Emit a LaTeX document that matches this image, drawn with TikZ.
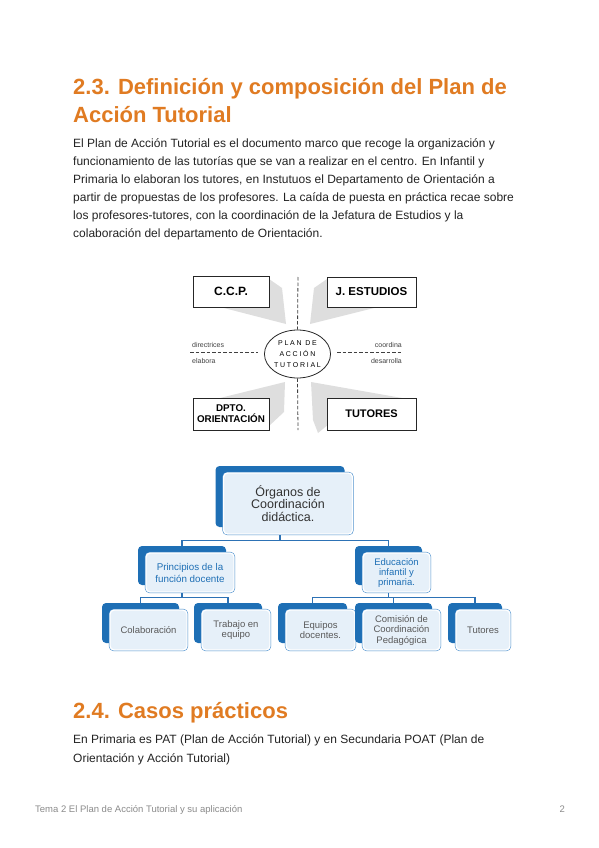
\documentclass[tikz,border=0pt]{standalone}
\usepackage{fontspec}
\setmainfont{Liberation Sans}
\usetikzlibrary{shapes.geometric,backgrounds}
\definecolor{ttl}{HTML}{E07B22}
\definecolor{bodytxt}{HTML}{222222}
\definecolor{shadowblue}{HTML}{1E6FB5}
\definecolor{frontfill}{HTML}{E6F0F9}
\definecolor{edgeblue}{HTML}{3A84C8}
\definecolor{linkblue}{HTML}{2D72B5}
\definecolor{wedgegray}{HTML}{DEDEDE}
\definecolor{footgray}{HTML}{8A8A8A}
\newcommand\orgbox[7]{%
  \node[shadowbox,minimum width=#4pt,minimum height=#5pt] (#1s) at (#2-8,#3-7) {};
  \node[frontbox,minimum width=#4pt,minimum height=#5pt,#6] (#1) at (#2,#3) {#7};
}
\begin{document}
\begin{tikzpicture}[x=1pt,y=-1pt,
  titletext/.style={anchor=base west,inner sep=0,text=ttl,font=\fontsize{22}{27}\selectfont\bfseries},
  bodyline/.style={anchor=base west,inner sep=0,text=bodytxt,font=\fontsize{12}{18}\selectfont},
  dbox/.style={rectangle,draw=black!85,line width=0.8pt,fill=white,align=center,inner sep=0},
  wedge/.style={fill=wedgegray,draw=none},
  dashline/.style={draw=black!75,line width=0.8pt,dash pattern=on 3.5pt off 2pt},
  tinylabel/.style={inner sep=0,font=\fontsize{7}{8}\selectfont,text=black!75},
  shadowbox/.style={rectangle,rounded corners=4pt,fill=shadowblue,inner sep=0},
  frontbox/.style={rectangle,rounded corners=4pt,fill=frontfill,draw=white,line width=1.4pt,
     preaction={draw=edgeblue,line width=2.4pt},inner sep=0,align=center},
  link/.style={draw=linkblue,line width=1.1pt},
  lvlthree/.style={font=\fontsize{9.5}{10.5}\selectfont,text=black!65}
]
\useasboundingbox (0,0) rectangle (599,848);

% ---------- heading and paragraph ----------
\node[titletext] (t1) at (73,95) {2.3. Definición y composición del Plan de};
\node[titletext] (t2) at (73,122) {Acción Tutorial};
\node[bodyline] (p1) at (73,147) {El Plan de Acción Tutorial es el documento marco que recoge la organización y};
\node[bodyline] (p2) at (73,165) {funcionamiento de las tutorías que se van a realizar en el centro. En Infantil y};
\node[bodyline] (p3) at (73,183) {Primaria lo elaboran los tutores, en Instutuos el Departamento de Orientación a};
\node[bodyline] (p4) at (73,201) {partir de propuestas de los profesores. La caída de puesta en práctica recae sobre};
\node[bodyline] (p5) at (73,219) {los profesores-tutores, con la coordinación de la Jefatura de Estudios y la};
\node[bodyline] (p6) at (73,237) {colaboración del departamento de Orientación.};

% ---------- upper diagram ----------
\fill[wedge] (269,279) -- (282,288) -- (286,324) -- (220,307) -- (250,295) -- cycle;
\fill[wedge] (327,279) -- (314,288) -- (310,324) -- (378,307) -- (350,295) -- cycle;
\fill[wedge] (220,398) -- (285,382) -- (284,412) -- (269,426) -- (250,410) -- cycle;
\fill[wedge] (402,398) -- (311,382) -- (313,420) -- (318,433) -- (340,415) -- cycle;

\node[dbox,minimum width=76pt,minimum height=31pt,font=\fontsize{12}{12}\selectfont\bfseries] (ccp) at (231,291.5) {C.C.P.};
\node[dbox,minimum width=89pt,minimum height=30pt,font=\fontsize{11.5}{12}\selectfont\bfseries] (je) at (371.5,292) {J. ESTUDIOS};
\node[dbox,minimum width=76pt,minimum height=32pt,font=\fontsize{9.8}{11}\selectfont\bfseries] (dpto) at (231,414) {DPTO.\\ORIENTACIÓN};
\node[dbox,minimum width=89pt,minimum height=32pt,font=\fontsize{11}{12}\selectfont\bfseries] (tut) at (371.5,414) {TUTORES};

\node[ellipse,draw=black!85,line width=0.8pt,fill=white,minimum width=65pt,minimum height=48pt,inner sep=0,align=center,
      font=\fontsize{7}{11}\selectfont\addfontfeature{LetterSpace=25}] (pat) at (297.5,354) {PLAN DE\\ACCIÓN\\TUTORIAL};

\coordinate (vtop) at (298,277);
\coordinate (vbot) at (298,430);
\coordinate (hl1) at (190,352);
\coordinate (hl2) at (258,352);
\coordinate (hr1) at (337,352);
\coordinate (hr2) at (402,352);
\draw[dashline] (vtop) -- (pat.north);
\draw[dashline] (pat.south) -- (vbot);
\draw[dashline] (hl1) -- (hl2);
\draw[dashline] (hr1) -- (hr2);

\node[tinylabel,anchor=base west] (lab1) at (192,347) {directrices};
\node[tinylabel,anchor=base west] (lab2) at (192,363) {elabora};
\node[tinylabel,anchor=base east] (lab3) at (402,347) {coordina};
\node[tinylabel,anchor=base east] (lab4) at (402,363) {desarrolla};

% ---------- org chart ----------
\orgbox{top}{288}{503.5}{129}{61}{font=\fontsize{12.5}{12.5}\selectfont,text=black!80}{Órganos de\\Coordinación\\didáctica.}
\orgbox{pri}{190}{572.5}{88}{39}{font=\fontsize{9.8}{12}\selectfont,text=shadowblue}{Principios de la\\función docente}
\orgbox{edu}{396.5}{572.5}{67}{39}{font=\fontsize{9.5}{10}\selectfont,text=shadowblue}{Educación\\infantil y\\primaria.}
\orgbox{col}{148.5}{630}{77}{40}{lvlthree}{Colaboración}
\orgbox{tra}{236}{630}{68}{40}{lvlthree}{Trabajo en\\equipo}
\orgbox{equ}{320.5}{630}{69}{40}{lvlthree}{Equipos\\docentes.}
\orgbox{com}{401.5}{630}{77}{40}{lvlthree}{Comisión de\\Coordinación\\Pedagógica}
\orgbox{tuo}{483}{630}{54}{40}{lvlthree}{Tutores}

\begin{pgfonlayer}{background}
\draw[link] (tops.south) -- ++(0,13) -| (pris.north);
\draw[link] (tops.south) -- ++(0,13) -| (edus.north);
\draw[link] (pris.south) -- ++(0,12) -| (cols.north);
\draw[link] (pris.south) -- ++(0,12) -| (tras.north);
\draw[link] (edus.south) -- ++(0,12) -| (equs.north);
\draw[link] (edus.south) -- ++(0,12) -| (coms.north);
\draw[link] (edus.south) -- ++(0,12) -| (tuos.north);
\end{pgfonlayer}

% ---------- section 2.4 ----------
\node[titletext] (t3) at (73,718) {2.4. Casos prácticos};
\node[bodyline] (q1) at (73,743) {En Primaria es PAT (Plan de Acción Tutorial) y en Secundaria POAT (Plan de};
\node[bodyline] (q2) at (73,762) {Orientación y Acción Tutorial)};

% ---------- footer ----------
\node[anchor=base west,inner sep=0,text=footgray,font=\fontsize{9.5}{10}\selectfont] (f1) at (35,812) {Tema 2 El Plan de Acción Tutorial y su aplicación};
\node[anchor=base east,inner sep=0,text=footgray,font=\fontsize{9.5}{10}\selectfont] (f2) at (565,812) {2};
\end{tikzpicture}
\end{document}
